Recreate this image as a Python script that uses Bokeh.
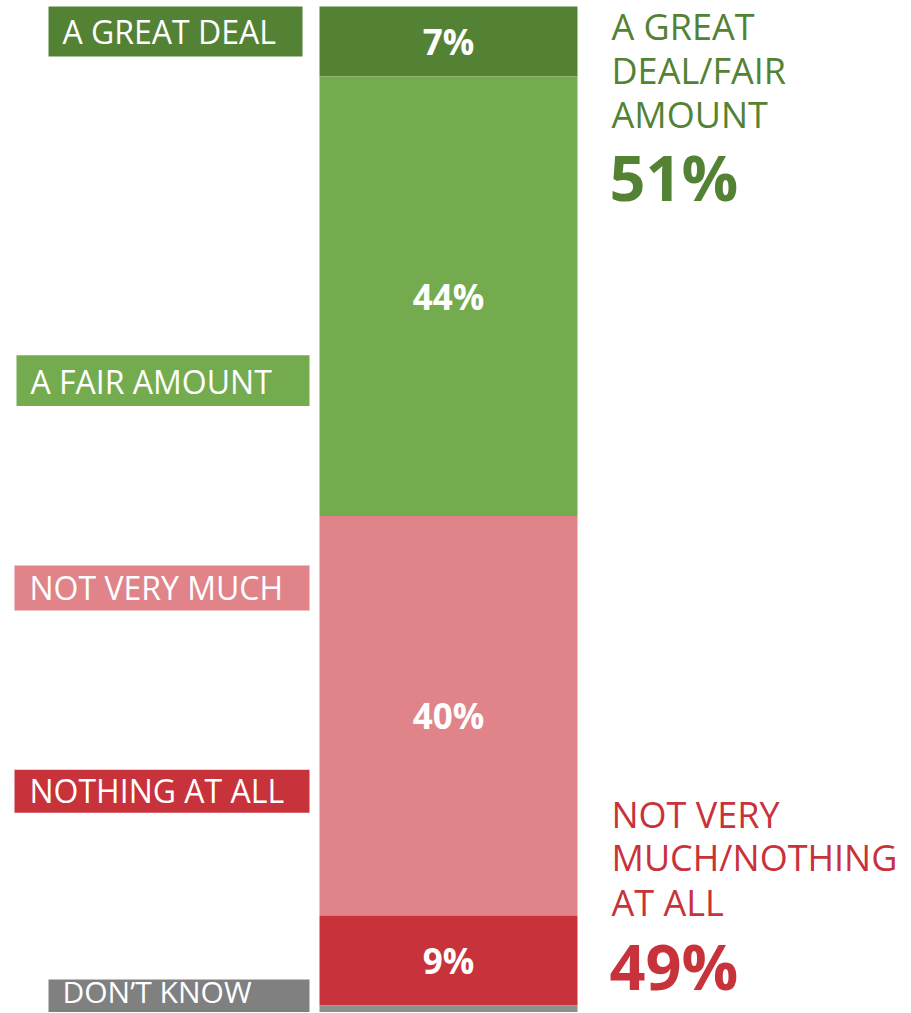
from bokeh.plotting import figure
from bokeh.models import Range1d, ColumnDataSource
from bokeh.core.properties import value
from bokeh.embed import file_html
from bokeh.resources import INLINE

# ---- data ----
categories = ["A GREAT DEAL", "A FAIR AMOUNT", "NOT VERY MUCH", "NOTHING AT ALL", "DON\u2019T KNOW"]
percents = [7, 44, 40, 9, 1]
bar_labels = ["7%", "44%", "40%", "9%", ""]
colors = ["#548235", "#74AB4F", "#E0848A", "#C8323A", "#8F8F8F"]
label_box_colors = ["#548235", "#74AB4F", "#E0848A", "#C8323A", "#808080"]
positive_lines = ["A GREAT", "DEAL/FAIR", "AMOUNT"]
negative_lines = ["NOT VERY", "MUCH/NOTHING", "AT ALL"]

FONT = "Open Sans"

p = figure(width=910, height=1012, output_backend="svg", toolbar_location=None,
           x_range=Range1d(1, 911), y_range=Range1d(100.7, -0.6),
           min_border=0, outline_line_color=None)
p.axis.visible = False
p.grid.visible = False
p.background_fill_color = "white"

# stacked bar
tops, bottoms = [], []
acc = 0
for v in percents:
    tops.append(acc)
    acc += v
    bottoms.append(acc)
src = ColumnDataSource(dict(top=tops, bottom=bottoms, color=colors,
                            mid=[(t + b) / 2 for t, b in zip(tops, bottoms)],
                            lab=bar_labels))
p.quad(left=320, right=578, top="top", bottom="bottom", fill_color="color",
       line_color=None, source=src)
p.text(x=449, y="mid", text="lab", source=src, text_color="white",
       text_font=value(FONT), text_font_style="bold", text_font_size="35px",
       text_align="center", text_baseline="middle")

# left category labels
box_left = [49, 17, 15, 15, 49]
box_right = [303, 310, 310, 310, 310]
box_top = [0.0, 34.9, 55.96, 76.4, 97.4]
box_bottom = [5.0, 40.0, 60.46, 80.7, 101.5]
text_x = [63, 31, 30, 30, 63]
text_y = [2.5, 37.5, 58.2, 78.5, 98.6]
text_sizes = ["32px", "32px", "32px", "32px", "30px"]
lsrc = ColumnDataSource(dict(left=box_left, right=box_right,
                             top=box_top, bottom=box_bottom, color=label_box_colors,
                             tx=text_x, ty=text_y, lab=categories, fs=text_sizes))
p.quad(left="left", right="right", top="top", bottom="bottom", fill_color="color",
       line_color=None, source=lsrc)
p.text(x="tx", y="ty", text="lab", source=lsrc, text_color="white",
       text_font=value(FONT), text_font_size="fs", text_align="left",
       text_baseline="middle")

# right summary texts
pos_total = percents[0] + percents[1]
neg_total = percents[2] + percents[3]
p.text(x=[612] * 3, y=[2.0, 6.4, 10.8], text=positive_lines, text_color="#548235",
       text_font=value(FONT), text_font_size="36px", text_align="left", text_baseline="middle")
p.text(x=[610], y=[17.0], text=[f"{pos_total}%"], text_color="#548235",
       text_font=value(FONT), text_font_style="bold", text_font_size="63px",
       text_align="left", text_baseline="middle")
p.text(x=[612] * 3, y=[80.9, 85.2, 89.7], text=negative_lines, text_color="#C8323A",
       text_font=value(FONT), text_font_size="36px", text_align="left", text_baseline="middle")
p.text(x=[610], y=[96.0], text=[f"{neg_total}%"], text_color="#C8323A",
       text_font=value(FONT), text_font_style="bold", text_font_size="63px",
       text_align="left", text_baseline="middle")

open("out.html", "w").write(file_html(p, INLINE))
